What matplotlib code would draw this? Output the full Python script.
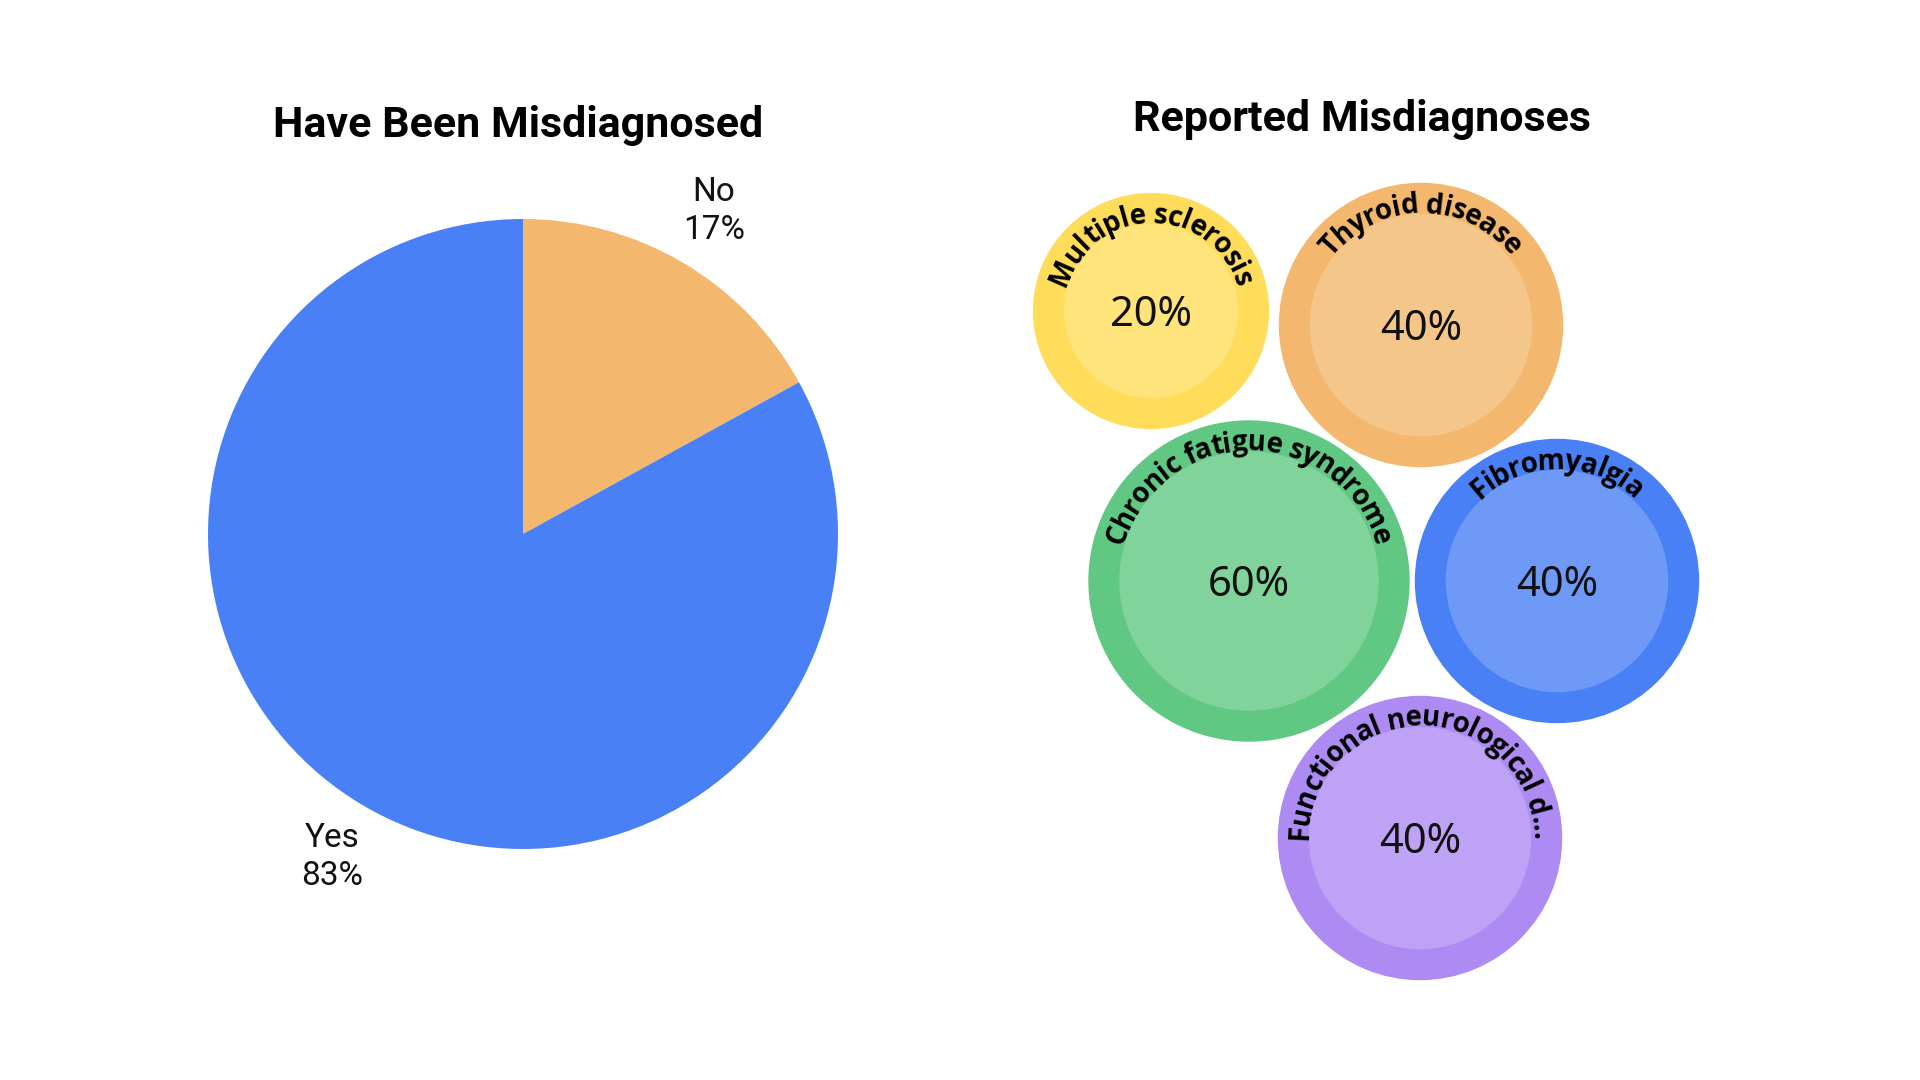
"""Misdiagnosis survey: pie of yes/no plus a bubble pack of reported misdiagnoses."""

import matplotlib

matplotlib.use("Agg")
import matplotlib.pyplot as plt
import numpy as np
from matplotlib import font_manager
from matplotlib.font_manager import FontProperties
from matplotlib.patches import Circle

# Data
PIE_LABELS = ["No", "Yes"]
PIE_VALUES = [17, 83]
PIE_COLORS = ["#F3B86D", "#4A80F5"]

DIAG_LABELS = [
    "Multiple sclerosis",
    "Thyroid disease",
    "Chronic fatigue syndrome",
    "Fibromyalgia",
    "Functional neurological d...",
]
DIAG_VALUES = [20, 40, 60, 40, 40]
DIAG_COLORS = ["#FFDC5A", "#F3B86D", "#61C883", "#4A80F5", "#AD8BF2"]

# Layout (figure pixels, y measured from the top)
W, H = 1920, 1080
PIE_CENTER = (523, 534)
PIE_RADIUS = 315
BUBBLE_CENTERS = [(1151, 311), (1421, 325), (1249, 581), (1557, 581), (1420, 838)]
RING = 31
TRACKING = 0.95  # squeeze the curved labels a touch


def bubble_radius(v: float) -> float:
    """Radius in pixels for a bubble value (sqrt scale with a floor)."""
    return 60 + 13 * np.sqrt(v)


def lighten(hex_color: str, amount: float = 0.2) -> tuple[float, float, float]:
    rgb = np.array(matplotlib.colors.to_rgb(hex_color))
    return tuple(rgb + (1 - rgb) * amount)


# bold face for the curved labels; Noto Sans bold may not be installed
label_family = "Noto Sans"
for f in font_manager.fontManager.ttflist:
    if f.name == "Noto Sans" and f.weight in (700, "bold"):
        break
else:
    label_family = "Open Sans"

fig = plt.figure(figsize=(W / 100, H / 100), dpi=100)
fig.patch.set_facecolor("white")

# --- pie ---
ax_pie = fig.add_axes(
    [
        (PIE_CENTER[0] - PIE_RADIUS) / W,
        (H - PIE_CENTER[1] - PIE_RADIUS) / H,
        2 * PIE_RADIUS / W,
        2 * PIE_RADIUS / H,
    ]
)
pie_text = [f"{lab}\n{v}%" for lab, v in zip(PIE_LABELS, PIE_VALUES)]
wedges, texts = ax_pie.pie(
    PIE_VALUES,
    labels=pie_text,
    colors=PIE_COLORS,
    startangle=90,
    counterclock=False,
    labeldistance=1.19,
    textprops={"fontsize": 24, "family": "Roboto", "color": "#111111"},
    wedgeprops={"linewidth": 0},
)
for t in texts:
    t.set_horizontalalignment("center")
    t.set_verticalalignment("center")
    t.set_linespacing(1.25)
ax_pie.set_xlim(-1, 1)
ax_pie.set_ylim(-1, 1)
ax_pie.set_aspect("equal")
ax_pie.axis("off")

# --- bubbles: full-figure pixel axes ---
ax = fig.add_axes([0, 0, 1, 1], zorder=-1)
ax.set_xlim(0, W)
ax.set_ylim(H, 0)
ax.axis("off")

ax.text(518, 137, "Have Been Misdiagnosed", ha="center", va="baseline",
        fontsize=31, fontweight="bold", family="Roboto")
ax.text(1362, 131, "Reported Misdiagnoses", ha="center", va="baseline",
        fontsize=31, fontweight="bold", family="Roboto")

label_fp = FontProperties(family=label_family, weight="bold", size=20)
fig.canvas.draw()
renderer = fig.canvas.get_renderer()


def text_width(s: str) -> float:
    if not s.strip():
        return 0.0
    w, _, _ = renderer.get_text_width_height_descent(s, label_fp, ismath=False)
    return w


def curved_label(cx: float, cy: float, radius: float, s: str) -> None:
    """Write s along the top of a circle, one rotated glyph per character."""
    total = text_width(s) * TRACKING
    for i, ch in enumerate(s):
        if ch == " ":
            continue
        right = text_width(s[: i + 1])
        mid = (right - text_width(ch) / 2) * TRACKING
        theta = np.pi / 2 - (mid - total / 2) / radius
        x = cx + radius * np.cos(theta)
        y = cy - radius * np.sin(theta)
        ax.text(x, y, ch, fontproperties=label_fp, ha="center", va="baseline",
                rotation=np.degrees(theta) - 90, rotation_mode="anchor")


for (cx, cy), lab, val, col in zip(BUBBLE_CENTERS, DIAG_LABELS, DIAG_VALUES, DIAG_COLORS):
    r = bubble_radius(val)
    ax.add_patch(Circle((cx, cy), r, facecolor=col, edgecolor="none"))
    ax.add_patch(Circle((cx, cy), r - RING, facecolor=lighten(col), edgecolor="none"))
    curved_label(cx, cy, r - RING + 1, lab)
    ax.text(cx, cy + 15, f"{val}%", ha="center", va="baseline",
            fontsize=30, family="Noto Sans", color="#111111")

fig.savefig("out.png", dpi=100)
